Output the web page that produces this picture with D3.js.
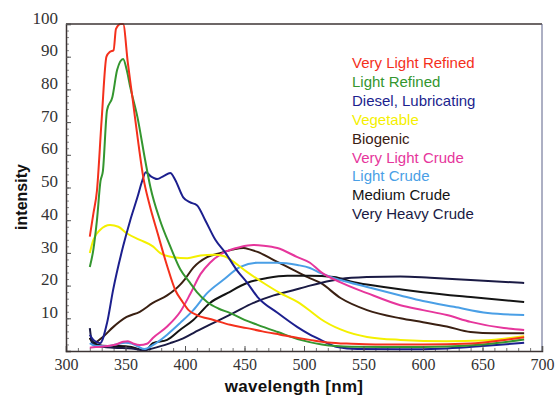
<!DOCTYPE html>
<html>
<head>
<meta charset="utf-8">
<script src="https://cdn.jsdelivr.net/npm/d3@7"></script>
<style>
  body { margin: 0; background: #ffffff; }
  svg { display: block; }
</style>
</head>
<body>
<svg id="chart" width="555" height="396"></svg>
<script>
// series names and colours, in legend order
const seriesNames = ["Very Light Refined", "Light Refined", "Diesel, Lubricating", "Vegetable",
  "Biogenic", "Very Light Crude", "Light Crude", "Medium Crude", "Very Heavy Crude"];
const seriesColors = ["#f4301c", "#34962f", "#1c1f8e", "#f4f000",
  "#3a2012", "#e6369c", "#4a9fe6", "#141414", "#1a1a44"];

// [wavelength nm, intensity]
const veryLightRefined = [[320,35],[323,42],[326,49],[330,71],[334,90],[337,91.5],[340,92],[342,98.5],[346,100],[348,100],
  [352,88],[356,77],[361,63],[365,53],[370,45],[377,36],[385,26],[392,18.5],[398,15],[403,12.5],[410,11],[424,9.5],
  [438,8],[452,7],[465,6],[480,5],[495,4],[505,3.4],[520,2.6],[540,2.2],[560,2],[600,2],[640,2.3],[665,3.2],[685,4.2]];
const lightRefined = [[320,25.7],[323,31],[326,40],[329,52],[331,55],[334.5,73.7],[339,77.7],[343,86],[348,89.3],[351,86],
  [354,80.7],[360,71.6],[366.5,58.4],[371,50],[379,40],[387.6,32],[396,25],[404,21],[410,18],[418.6,15],[428,13],
  [438,11.6],[450,9.5],[461,8],[478,5.8],[497,3.4],[515,2],[540,1.3],[580,1.2],[620,1.4],[650,2],[685,3.5]];
const dieselLubricating = [[320,5],[323,3.4],[328.6,2.4],[334.5,8.6],[339.6,18.7],[348,32],[354,40],[360,47],[364,52],
  [367,54.7],[371,53.5],[376.6,52.6],[382,53.5],[387.6,54.4],[391.8,52.3],[398.5,47],[404,45.5],[410,44.6],[417,40],
  [425.5,34],[434,30],[444,24.5],[452,21],[461,16.5],[478,11.6],[494.5,7.3],[505,5],[514,3.4],[528,1.2],[545,0.6],
  [580,0.5],[620,0.8],[650,1.5],[685,2.5]];
const vegetable = [[320,30],[323,34],[328.6,37],[337,38.5],[344,38],[351,36],[362,34],[373,32],[379,30],[390,28.7],
  [402,28.4],[413,29.2],[424,29.4],[433,29],[440,27.5],[452,24.2],[466,20.8],[480,17.7],[494.5,15],[505,12.3],
  [514,9.8],[530.7,6.6],[553,4.3],[581,3.4],[620,3],[650,3.2],[685,4.5]];
const biogenic = [[320,4],[323,2.4],[331,4.3],[339.6,7.3],[351,10.4],[362,12],[373,14.7],[385,17],[396,20.3],[400,22],
  [407,25.5],[418.6,28.7],[430,30],[440,31],[449,31.5],[455,31],[461,30.3],[474.6,27.8],[491,24.8],[503,22.6],
  [514,20.8],[530.7,16.2],[553,12.5],[581,10],[600,8.8],[620,7.5],[640,5.8],[660,5.4],[685,5.4]];
const veryLightCrude = [[320,1],[325,1.2],[335,1.5],[342,2],[348,2.8],[352,3],[357,2.2],[362,1.8],[368,2.2],[373,4],
  [385,7.5],[396,12],[404.5,17.5],[413,23.5],[421,27],[432,30],[446.5,31.8],[457.5,32.4],[466,32.2],[477.6,31.5],
  [494.5,28.7],[505,27],[514,24.2],[530.7,21],[553,17.7],[581,14],[600,12.5],[620,11],[640,8.9],[668,7],[685,6.4]];
const lightCrude = [[320,2.4],[325,1.5],[335,1.5],[342,2],[350,2.5],[355,2.3],[360,1.5],[366,0.6],[373,1.8],[385,5],
  [396,8.6],[407,12.5],[418.6,17.7],[432,21.7],[446.5,25.7],[460.8,27],[477.6,27],[494.5,26.3],[505,25.4],[514,23.8],
  [530.7,21.7],[553,19.6],[581,17],[600,15.3],[626,13.5],[654.5,11.6],[685,11]];
const mediumCrude = [[320,4],[322,3],[326,2],[335,1.5],[345,1.5],[355,1.2],[362,0.5],[367,0.3],[373,2.4],[385,3.4],
  [396,6.5],[407,9.5],[421,14.7],[435.6,17.7],[452,20.8],[469,22.3],[486,23],[505,23],[525,22.6],[542,21],
  [567,19.6],[600,18],[640,16.5],[685,15]];
const veryHeavyCrude = [[320,7],[322,2.5],[326,1.5],[340,1],[355,0.8],[365,0.2],[373,0.8],[387.6,2.4],[398,3.8],
  [407,5.5],[424,8.6],[440.6,11.6],[457.5,14.7],[474.6,17],[491,18.6],[505,20],[514,20.8],[530.7,22],[553,22.6],
  [581,22.8],[606,22.4],[640,21.7],[685,20.8]];

const xTicks = [300, 350, 400, 450, 500, 550, 600, 650, 700];
const yTicks = [10, 20, 30, 40, 50, 60, 70, 80, 90, 100];

const allSeries = [veryLightRefined, lightRefined, dieselLubricating, vegetable, biogenic,
  veryLightCrude, lightCrude, mediumCrude, veryHeavyCrude];

let margin = {left: 66, top: 24, right: 542, bottom: 351};
let svg = d3.select("#chart");

let x = d3.scaleLinear().domain([300, 700]).range([margin.left, margin.right]);
let y = d3.scaleLinear().domain([0, 100]).range([margin.bottom, margin.top]);

let serif = "'Liberation Serif', 'DejaVu Serif', serif";
let sans = "'Liberation Sans', Arial, sans-serif";

// minor ticks
svg.append("g")
  .attr("transform", "translate(0," + margin.bottom + ")")
  .call(d3.axisBottom(x).tickValues(d3.range(310, 700, 10)).tickSize(-3).tickFormat(""))
  .call(g => g.select(".domain").remove())
  .selectAll("line").attr("stroke", "#777");
svg.append("g")
  .attr("transform", "translate(" + margin.left + ",0)")
  .call(d3.axisLeft(y).tickValues(d3.range(2, 100, 2)).tickSize(-3).tickFormat(""))
  .call(g => g.select(".domain").remove())
  .selectAll("line").attr("stroke", "#888");

// curves
let line = d3.line()
  .x(d => x(d[0]))
  .y(d => y(d[1]))
  .curve(d3.curveMonotoneX);

let order = [4, 7, 8, 6, 5, 3, 2, 1, 0];
order.forEach(i => {
  svg.append("path")
    .datum(allSeries[i])
    .attr("d", line)
    .attr("fill", "none")
    .attr("stroke", seriesColors[i])
    .attr("stroke-width", 2)
    .attr("stroke-linejoin", "round");
});

// frame
svg.append("line")
  .attr("x1", margin.left).attr("x2", margin.right)
  .attr("y1", margin.top).attr("y2", margin.top)
  .attr("stroke", "#3c3434").attr("stroke-width", 1.5);
svg.append("line")
  .attr("x1", margin.right).attr("x2", margin.right)
  .attr("y1", margin.top).attr("y2", margin.bottom)
  .attr("stroke", "#5a6088").attr("stroke-width", 1);

// major axes
let xAxis = svg.append("g")
  .attr("transform", "translate(0," + margin.bottom + ")")
  .call(d3.axisBottom(x).tickValues(xTicks).tickSize(-5).tickPadding(8));
xAxis.select(".domain").attr("stroke", "#3c3434").attr("stroke-width", 1.5);
xAxis.selectAll("line").attr("stroke", "#555");
xAxis.selectAll("text")
  .style("font-family", serif).style("font-size", "16px").attr("fill", "#333");

let yAxis = svg.append("g")
  .attr("transform", "translate(" + margin.left + ",0)")
  .call(d3.axisLeft(y).tickValues(yTicks).tickSize(-5).tickPadding(8));
yAxis.select(".domain").attr("stroke", "#3c3434").attr("stroke-width", 1.5);
yAxis.selectAll("line").attr("stroke", "#555");
yAxis.selectAll("text")
  .attr("dy", "-0.05em")
  .style("font-family", serif).style("font-size", "17px").attr("fill", "#333");

// axis titles
svg.append("text")
  .attr("x", 294)
  .attr("y", 392)
  .attr("text-anchor", "middle")
  .style("font-family", sans).style("font-weight", "bold").style("font-size", "17px")
  .style("letter-spacing", "0.3px")
  .attr("fill", "#111")
  .text("wavelength [nm]");

svg.append("text")
  .attr("transform", "translate(27,197) rotate(-90)")
  .attr("text-anchor", "middle")
  .style("font-family", sans).style("font-weight", "bold").style("font-size", "16px")
  .attr("fill", "#111")
  .text("intensity");

// legend, coloured text only
svg.append("g")
  .selectAll("text")
  .data(seriesNames)
  .join("text")
    .attr("x", 352)
    .attr("y", (d, i) => 68 + i * 18.9)
    .style("font-family", sans).style("font-size", "15px")
    .attr("fill", (d, i) => seriesColors[i])
    .text(d => d);
</script>
</body>
</html>
